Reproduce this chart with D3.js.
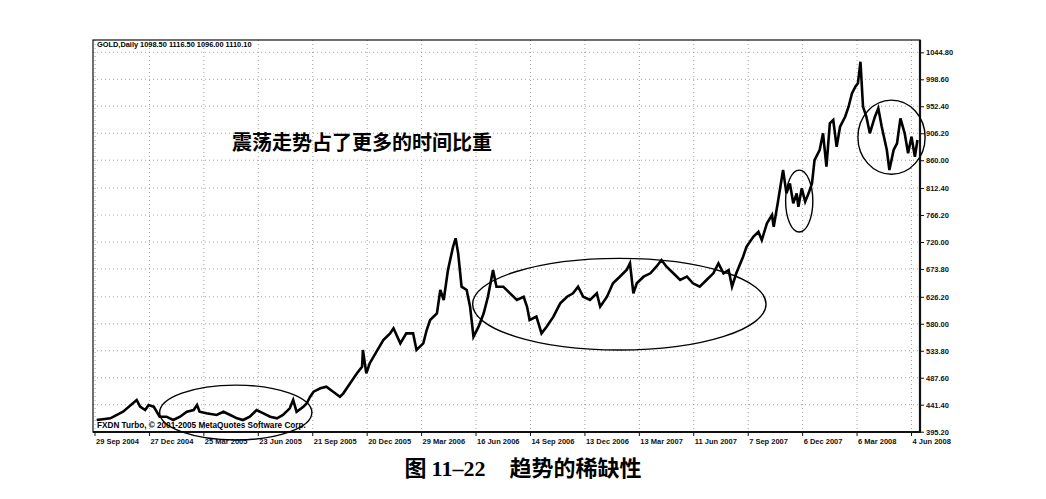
<!DOCTYPE html>
<html>
<head>
<meta charset="utf-8">
<script src="https://cdn.jsdelivr.net/npm/d3@7"></script>
<style>
  body { margin: 0; background: #fff; }
  svg { display: block; }
  .axlab { font-family: "Liberation Sans", Arial, sans-serif; font-size: 7.5px; font-weight: bold; fill: #111; }
</style>
</head>
<body>
<div id="chart"></div>
<script>
// bar index (trading days from 29 Sep 2004) and price
const barIdx = [2,18,33,49,53,59,63,69,76,84,92,100,108,116,120,123,131,143,151,159,167,174,182,190,198,206,214,221,229,233,237,245,249,253,257,265,272,280,288,292,300,308,314,315,319,323,331,339,347,351,359,366,374,378,386,390,394,402,406,410,415,421,424,427,431,437,441,445,
  451,457,462,468,472,480,488,496,504,508,511,519,525,531,539,547,555,562,568,574,582,590,594,602,609,617,625,629,633,637,645,653,660,666,672,680,688,696,703,711,719,727,733,739,745,749,
  754,762,766,774,780,784,790,796,798,803,809,813,817,821,825,827,831,835,839,843,846,852,856,860,864,868,872,876,882,886,890,894,897,900,903,907,911,917,921,925,931,934,939,943,947,952,956,960,964,967];
const closes = [415.2,418.1,429.4,449.5,438.0,432.3,440.9,438.0,420.9,420.9,415.2,420.9,429.4,432.3,440.9,429.4,426.7,423.8,429.4,423.8,418.1,415.2,420.9,432.3,426.7,420.9,418.1,423.8,435.2,449.5,429.4,438.0,443.8,455.1,463.7,469.5,472.2,463.7,455.1,460.9,478.1,495.2,506.5,535.1,495.2,512.3,532.2,552.2,563.6,572.2,546.5,563.6,563.6,535.1,546.5,569.3,586.4,597.9,637.8,620.7,672.0,711.9,726.3,700.6,643.5,637.8,609.2,557.8,
  575.0,597.9,626.3,672.0,643.5,643.5,632.1,620.7,626.3,609.2,586.4,592.1,563.6,575.0,592.1,615.0,626.3,632.1,643.5,626.3,620.7,632.1,609.2,626.3,649.3,660.6,672.0,683.5,632.1,649.3,660.6,666.4,677.7,689.1,677.7,666.4,654.9,660.6,649.3,643.5,654.9,666.4,683.5,666.4,672.0,643.5,
  666.4,694.8,711.9,729.0,737.6,723.4,752.0,766.2,746.2,789.0,843.2,803.3,820.4,786.2,803.3,780.4,811.9,789.0,803.3,820.4,860.3,877.5,906.1,848.9,923.2,928.8,883.1,917.4,934.5,951.6,974.5,985.9,991.7,1028.6,951.6,934.5,906.1,934.5,948.9,917.4,877.5,843.2,877.5,889.0,931.7,906.1,871.8,900.2,866.0,894.6];

const dateLabels = ["29 Sep 2004","27 Dec 2004","25 Mar 2005","23 Jun 2005","21 Sep 2005","20 Dec 2005","29 Mar 2006","16 Jun 2006","14 Sep 2006","13 Dec 2006","13 Mar 2007","11 Jun 2007","7 Sep 2007","6 Dec 2007","6 Mar 2008","4 Jun 2008"];
const priceTicks = [395.20,441.40,487.60,533.80,580.00,626.20,673.80,720.00,766.20,812.40,860.00,906.20,952.40,998.60,1044.80];

// annotated sideways ranges: [first bar, last bar], and their price bounds
const rangeBars = [[76, 255], [444, 789], [812, 844], [897, 976]];
const rangeLow = [381, 535, 737, 836];
const rangeHigh = [475, 692, 843, 963];

const W = 1046, H = 499;
const L = 93, R = 920, T = 40, B = 432;

const svg = d3.select("#chart").append("svg").attr("width", W).attr("height", H);

const x = d3.scaleLinear().domain([0, 970]).range([95, R]);
const y = d3.scaleLinear().domain([395.2, 1044.8]).range([431.7, 52.3]);

// grid
const grid = svg.append("g").attr("class", "grid");
grid.selectAll("line.h")
    .data(priceTicks)
  .enter().append("line")
    .attr("x1", L).attr("x2", R)
    .attr("y1", d => y(d)).attr("y2", d => y(d))
    .style("stroke", "#8a8a8a").style("stroke-width", 0.8).style("stroke-dasharray", "1,3");
grid.selectAll("line.v")
    .data(dateLabels)
  .enter().append("line")
    .attr("x1", (d, i) => x(i * 64)).attr("x2", (d, i) => x(i * 64))
    .attr("y1", T).attr("y2", B)
    .style("stroke", "#8a8a8a").style("stroke-width", 0.8).style("stroke-dasharray", "1,3");

// frame
svg.append("rect").attr("x", L).attr("y", T).attr("width", R - L).attr("height", B - T)
    .style("fill", "none").style("stroke", "#111").style("stroke-width", 1.2);
svg.append("line").attr("x1", R).attr("x2", R).attr("y1", T).attr("y2", B + 1)
    .style("stroke", "#111").style("stroke-width", 2.2);
svg.append("line").attr("x1", L).attr("x2", R + 1).attr("y1", B).attr("y2", B)
    .style("stroke", "#111").style("stroke-width", 2.2);

// right price axis
const yAxis = d3.axisRight(y).tickValues(priceTicks).tickSize(4).tickFormat(d3.format(".2f"));
const ya = svg.append("g").attr("transform", "translate(" + R + ",0)").call(yAxis);
ya.select(".domain").remove();
ya.selectAll("text").attr("class", "axlab").attr("x", 6).attr("dy", "0.35em");
ya.selectAll("line").style("stroke", "#111");

// date axis
const xa = svg.append("g").attr("transform", "translate(0," + B + ")");
xa.selectAll("line")
    .data(dateLabels)
  .enter().append("line")
    .attr("x1", (d, i) => x(i * 64)).attr("x2", (d, i) => x(i * 64))
    .attr("y1", 0).attr("y2", 4)
    .style("stroke", "#111");
xa.selectAll("text")
    .data(dateLabels)
  .enter().append("text")
    .attr("class", "axlab")
    .attr("x", (d, i) => x(i * 64) + 1)
    .attr("y", 12)
    .text(d => d);

// price line
const pts = barIdx.map((b, i) => [b, closes[i]]);
svg.append("path")
    .datum(pts)
    .attr("d", d3.line().x(d => x(d[0])).y(d => y(d[1])))
    .style("fill", "none").style("stroke", "#000").style("stroke-width", 2.6)
    .style("stroke-linejoin", "miter");

// header / footer texts
svg.append("text").attr("x", 97).attr("y", 47)
    .style("font-family", "Liberation Sans, Arial, sans-serif").style("font-size", "7.4px").style("font-weight", "bold")
    .text("GOLD,Daily  1098.50 1116.50 1096.00 1110.10");
svg.append("text").attr("x", 97).attr("y", 428)
    .style("font-family", "Liberation Sans, Arial, sans-serif").style("font-size", "8.2px").style("font-weight", "bold")
    .text("FXDN Turbo, © 2001-2005 MetaQuotes Software Corp.");

// ellipses around sideways phases
svg.append("g").selectAll("ellipse")
    .data(rangeBars)
  .enter().append("ellipse")
    .attr("cx", d => (x(d[0]) + x(d[1])) / 2)
    .attr("cy", (d, i) => (y(rangeLow[i]) + y(rangeHigh[i])) / 2)
    .attr("rx", d => (x(d[1]) - x(d[0])) / 2)
    .attr("ry", (d, i) => (y(rangeLow[i]) - y(rangeHigh[i])) / 2)
    .style("fill", "none").style("stroke", "#000").style("stroke-width", 1.4);

// annotation
svg.append("text").attr("x", 232).attr("y", 150)
    .style("font-family", "Noto Sans CJK SC, sans-serif").style("font-size", "20px").style("font-weight", "bold")
    .text("震荡走势占了更多的时间比重");

// caption
const cap = svg.append("text").attr("x", 523).attr("y", 476).attr("text-anchor", "middle")
    .style("font-size", "22px").style("font-weight", "bold");
cap.append("tspan").style("font-family", "Noto Sans CJK SC, sans-serif").text("图 ");
cap.append("tspan").style("font-family", "Liberation Serif, serif").text("11–22");
cap.append("tspan").style("font-family", "Noto Sans CJK SC, sans-serif").attr("dx", 24).text("趋势的稀缺性");
</script>
</body>
</html>
